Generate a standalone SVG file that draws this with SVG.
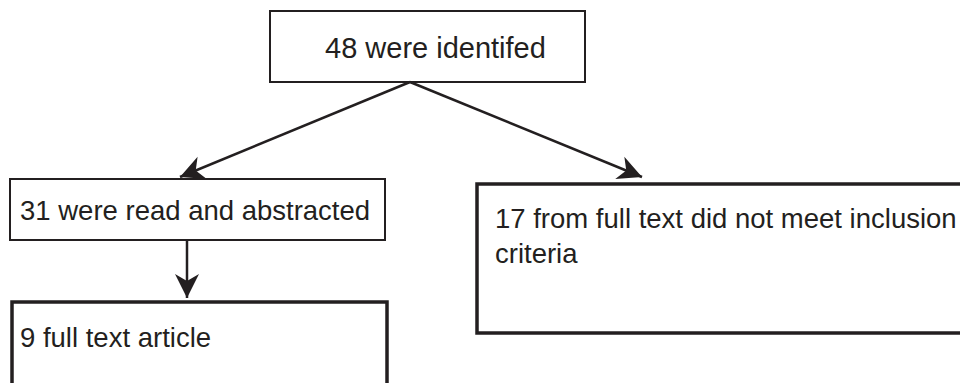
<svg xmlns="http://www.w3.org/2000/svg" width="960" height="383" viewBox="0 0 960 383">
<style>
.box{fill:#fff;stroke:#231f20;stroke-width:2}
.thick{stroke-width:3.5}
.t{font-family:"Liberation Sans",Arial,sans-serif;font-size:27.5px;fill:#231f20}
.c{stroke:#231f20;stroke-width:2.5;fill:none}
</style>
<defs>
<marker id="ah" markerUnits="userSpaceOnUse" markerWidth="28" markerHeight="26" viewBox="-26 -13 28 26" refX="0" refY="0" orient="auto">
<path d="M0,0 L-24,-12 L-17,0 L-24,12 Z" fill="#231f20"/>
</marker>
</defs>
<rect width="960" height="383" fill="#fff"/>
<g id="n1"><rect class="box" x="270" y="11" width="315" height="71"/><text class="t" x="325" y="58" style="font-size:29px">48 were identifed</text></g>
<g id="n2"><rect class="box" x="10" y="179" width="375" height="61"/><text class="t" x="20" y="220">31 were read and abstracted</text></g>
<g id="n3"><rect class="box thick" x="12" y="302" width="375" height="100"/><text class="t" x="20" y="347">9 full text article</text></g>
<g id="n4"><rect class="box thick" x="477" y="184" width="500" height="149"/><text class="t" x="495" y="228">17 from full text did not meet inclusion</text><text class="t" x="495" y="263">criteria</text></g>
<g id="connectors">
<path class="c" d="M410,82 L180,177" marker-end="url(#ah)"/>
<path class="c" d="M410,82 L642,177" marker-end="url(#ah)"/>
<path class="c" d="M187,240 L187,298" marker-end="url(#ah)"/>
</g>
</svg>
